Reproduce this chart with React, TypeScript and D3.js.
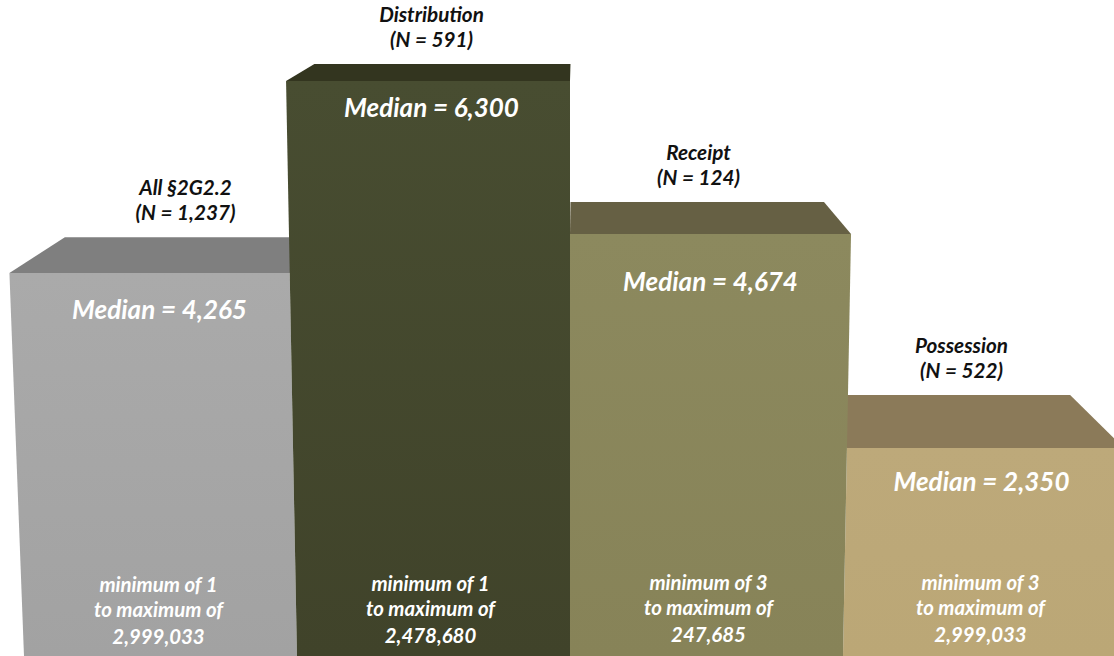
import * as d3 from "d3";

const categories = ["All §2G2.2", "Distribution", "Receipt", "Possession"];
const counts = [1237, 591, 124, 522];
const medians = [4265, 6300, 4674, 2350];
const minimums = [1, 1, 3, 3];
const maximums = [2999033, 2478680, 247685, 2999033];

const frontTop = ["#aaaaaa", "#484d31", "#8c895e", "#bda97a"];
const frontBottom = ["#a2a2a2", "#40432a", "#878358", "#bba776"];
const topFace = ["#7f7f7f", "#33351f", "#666044", "#8b7a59"];

const width = 1114;
const height = 656;

// the picture is a 3D illustration, so heights are read per bar and not strictly proportional
const y = d3.scaleLinear().domain([0, 2350, 4265, 4674, 6300]).range([656, 448, 273, 234, 81]);
const x = d3.scaleBand<string>().domain(categories).range([24, 1116]);
const fmt = d3.format(",");

// perspective: walls lean towards a point far below, tops recede to a point above
const centerX = 570;
const wallVanishY = 15000;
const topVanish: [number, number] = [575, -92];
const topDepth = 0.098;

const wallX = (xb: number, py: number) =>
  centerX + ((xb - centerX) * (wallVanishY - py)) / (wallVanishY - height);

const recede = ([px, py]: [number, number]): [number, number] => [
  px + (topVanish[0] - px) * topDepth,
  py + (topVanish[1] - py) * topDepth,
];

const polygon = d3.line();

// label placement relative to the bar's band centre
const labelDx = [25, -2, -8, -18];
const medianDx = [-1, -2, 4, 2];
const medianDy = [46, 36, 57, 43];
const rangeDx = [-2, -3, 2, 1];
const rangeDy = [1, 0, -1, -1];

const fontFamily = "Lato, 'Open Sans', sans-serif";

export default function App() {
  // tallest bars sit in front of their neighbours' top faces
  const order = d3.range(categories.length).sort((a, b) => d3.ascending(medians[a], medians[b]));

  return (
    <svg
      width={width}
      height={height}
      viewBox={`0 0 ${width} ${height}`}
      style={{ position: "absolute", left: 0, top: 0, background: "#fff" }}
      fontFamily={fontFamily}
      fontWeight={700}
      fontStyle="italic"
      textAnchor="middle"
    >
      <defs>
        {categories.map((_, i) => (
          <linearGradient key={i} id={`front-${i}`} x1="0" y1="0" x2="0" y2="1">
            <stop offset="0" stopColor={frontTop[i]} />
            <stop offset="1" stopColor={frontBottom[i]} />
          </linearGradient>
        ))}
      </defs>

      {order.map((i) => {
        const c = categories[i];
        const x0 = x(c)!;
        const x1 = x0 + x.bandwidth();
        const yTop = y(medians[i]);
        const tl: [number, number] = [wallX(x0, yTop), yTop];
        const tr: [number, number] = [wallX(x1, yTop), yTop];
        const front: [number, number][] = [tl, tr, [x1, height], [x0, height]];
        const top: [number, number][] = [tl, tr, recede(tr), recede(tl)];
        return (
          <g key={c}>
            <path d={polygon(top)! + "Z"} fill={topFace[i]} />
            <path d={polygon(front)! + "Z"} fill={`url(#front-${i})`} />
          </g>
        );
      })}

      {categories.map((c, i) => {
        const cx = x(c)! + x.bandwidth() / 2;
        const yTop = y(medians[i]);
        const backY = recede([cx, yTop])[1];
        return (
          <g key={c}>
            <g fontSize={20.7} fill="#111">
              <text x={cx + labelDx[i]} y={backY - 42}>{c}</text>
              <text x={cx + labelDx[i]} y={backY - 17}>{`(N = ${fmt(counts[i])})`}</text>
            </g>
            <text x={cx + medianDx[i]} y={yTop + medianDy[i]} fontSize={26} fill="#fff">
              {`Median = ${fmt(medians[i])}`}
            </text>
            <g fontSize={20.4} fill="#fff">
              <text x={cx + rangeDx[i]} y={591 + rangeDy[i]}>{`minimum of ${minimums[i]}`}</text>
              <text x={cx + rangeDx[i]} y={616 + rangeDy[i]}>to maximum of</text>
              <text x={cx + rangeDx[i]} y={643 + rangeDy[i]}>{fmt(maximums[i])}</text>
            </g>
          </g>
        );
      })}
    </svg>
  );
}
